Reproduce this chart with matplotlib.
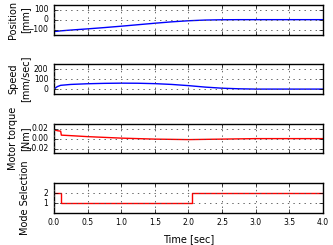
import matplotlib
matplotlib.use('Agg')
import matplotlib.pyplot as plt

plt.style.use('classic')

# time samples
t = [0.0, 0.05, 0.1, 0.25, 0.5, 0.75, 1.0, 1.25, 1.5, 1.75, 2.0, 2.25, 2.5, 2.75, 3.0, 3.5, 4.0]
position = [-118, -116, -112, -104, -92, -79, -65, -50, -35, -21, -10, -3, 0, 1, 1, 1, 1]
speed = [0, 25, 38, 47, 54, 58, 60, 59, 55, 47, 35, 20, 9, 3, 0, 0, 0]

torque_t = [0.0, 0.05, 0.1, 0.11, 0.25, 0.5, 0.75, 1.0, 1.25, 1.5, 1.75, 2.0, 2.25, 2.5, 2.75, 3.0, 3.5, 4.0]
torque = [0.018, 0.016, 0.015, 0.007, 0.006, 0.004, 0.0025, 0.001, 0.0, -0.001, -0.0015, -0.002, -0.0015, -0.001, -0.0005, 0.0, 0.0, 0.0]

mode_t = [0.0, 0.1, 2.05, 4.0]
mode = [2, 1, 2, 2]

fig, axes = plt.subplots(4, 1, sharex=True, figsize=(3.33, 2.45), dpi=100)
fig.subplots_adjust(left=0.162, right=0.97, top=0.98, bottom=0.131, hspace=1.0)

axes[0].plot(t, position, color='b', lw=1)
axes[0].set_ylim(-150, 150)
axes[0].set_yticks([-100, 0, 100])
axes[0].set_ylabel('Position\n[mm]')

axes[1].plot(t, speed, color='b', lw=1)
axes[1].set_ylim(-50, 250)
axes[1].set_yticks([0, 100, 200])
axes[1].set_ylabel('Speed\n[mm/sec]')

axes[2].plot(torque_t, torque, color='r', lw=1)
axes[2].set_ylim(-0.03, 0.03)
axes[2].set_yticks([-0.02, 0.0, 0.02])
axes[2].set_ylabel('Motor torque\n[Nm]')

axes[3].plot(mode_t, mode, color='r', lw=1, drawstyle='steps-post')
axes[3].set_ylim(0, 3)
axes[3].set_yticks([1, 2])
axes[3].set_ylabel('Mode Selection')
axes[3].set_xlabel('Time [sec]', fontsize=7)

for ax in axes:
    ax.set_xlim(0, 4)
    ax.set_xticks([0, 0.5, 1, 1.5, 2, 2.5, 3, 3.5, 4])
    ax.grid(True, linestyle=':', color='0.3', lw=0.6)
    ax.tick_params(labelsize=5.5, length=3)
    ax.yaxis.label.set_size(7)
    ax.yaxis.set_label_coords(-0.09, 0.5)
for ax in axes[:3]:
    ax.tick_params(labelbottom=False)

plt.savefig('out.png', dpi=100)
